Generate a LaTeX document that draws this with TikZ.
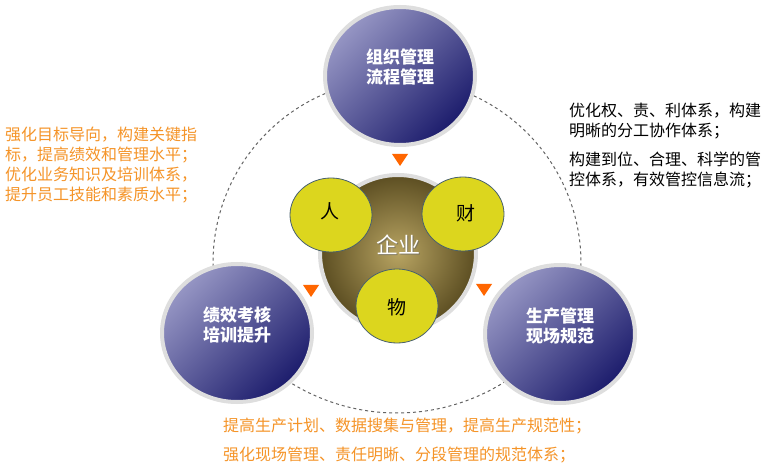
\documentclass[tikz,border=0pt]{standalone}
\usepackage{fontspec}
\setmainfont{Noto Sans CJK SC}
\usetikzlibrary{shapes.geometric}
\definecolor{orangetext}{RGB}{245,148,40}
\definecolor{tri}{RGB}{255,102,0}
\definecolor{ringgray}{RGB}{222,222,222}
\definecolor{circlight}{RGB}{150,150,196}
\definecolor{circmid}{RGB}{100,100,160}
\definecolor{circdark}{RGB}{28,28,108}
\definecolor{browninner}{RGB}{184,164,98}
\definecolor{brownouter}{RGB}{92,78,34}
\definecolor{yel}{RGB}{220,214,30}
\definecolor{yelborder}{RGB}{72,96,110}
\definecolor{dashgray}{RGB}{100,100,100}
\begin{document}
\begin{tikzpicture}[x=1pt,y=-1pt,
  bigcirc/.style={ellipse, minimum width=150pt, minimum height=138pt, inner sep=0pt,
    draw=ringgray, line width=4pt, shading=axis, top color=circlight, middle color=circmid,
    bottom color=circdark, shading angle=45},
  core/.style={circle, minimum size=156pt, inner sep=0pt, draw=ringgray, line width=4pt,
    inner color=browninner, outer color=brownouter},
  res/.style={ellipse, minimum width=82pt, minimum height=74pt, inner sep=0pt,
    fill=yel, draw=yelborder, line width=0.8pt},
  restext/.style={font=\fontsize{19}{22}\selectfont, text=black},
  circtext/.style={font=\fontsize{17}{20}\selectfont\bfseries, text=white, align=center},
  sidetext/.style={font=\fontsize{16}{20}\selectfont, align=left, inner sep=0pt, anchor=north west},
  dashline/.style={draw=dashgray, line width=1pt, dash pattern=on 3pt off 3pt},
  marker/.style={fill=tri}
]
\useasboundingbox (0,0) rectangle (774,470);
\fill[white] (0,0) rectangle (774,470);

% dashed cycle
\draw[dashline] (397,263) ++(183:184pt) arc[start angle=183, end angle=-3, radius=184pt];
\draw[dashline] (397,211) ++(-128:202pt) arc[start angle=-128, end angle=-52, radius=202pt];

% outer circles
\node[bigcirc] (top) at (400,76) {};
\node[bigcirc] (left) at (237,333) {};
\node[bigcirc] (right) at (560,334) {};

% core
\node[core] (core) at (398,253) {};
\node[res] (ren) at (331,215) {};
\node[res] (cai) at (463,214) {};
\node[res] (wu) at (397,306) {};

% markers
\fill[marker] (392,154) -- (408,154) -- (400,166) -- cycle;
\fill[marker] (303,285) -- (319,285) -- (311,297) -- cycle;
\fill[marker] (476,284) -- (492,284) -- (484,296) -- cycle;

% texts
\node[circtext] (toptext) at (400,67) {组织管理\\流程管理};
\node[circtext] (lefttext) at (237,325) {绩效考核\\培训提升};
\node[circtext] (righttext) at (560,326) {生产管理\\现场规范};
\node[font=\fontsize{22}{24}\selectfont, text=black!60, opacity=0.6] at (399,246) {企业};
\node[font=\fontsize{22}{24}\selectfont, text=white] (coretext) at (398,245) {企业};
\node[restext] (rentext) at (330,211) {人};
\node[restext] (caitext) at (466,213) {财};
\node[restext] (wutext) at (397,307) {物};

\node[sidetext, text=orangetext] (lefttxt) at (5,127)
  {强化目标导向，构建关键指\\标，提高绩效和管理水平；\\优化业务知识及培训体系，\\提升员工技能和素质水平；};
\node[sidetext, text=black] (righttxt1) at (569,103)
  {优化权、责、利体系，构建\\明晰的分工协作体系；};
\node[sidetext, text=black] (righttxt2) at (569,152)
  {构建到位、合理、科学的管\\控体系，有效管控信息流；};
\node[sidetext, text=orangetext] (bottxt1) at (223,418)
  {提高生产计划、数据搜集与管理，提高生产规范性；};
\node[sidetext, text=orangetext] (bottxt2) at (223,447)
  {强化现场管理、责任明晰、分段管理的规范体系；};
\end{tikzpicture}
\end{document}
